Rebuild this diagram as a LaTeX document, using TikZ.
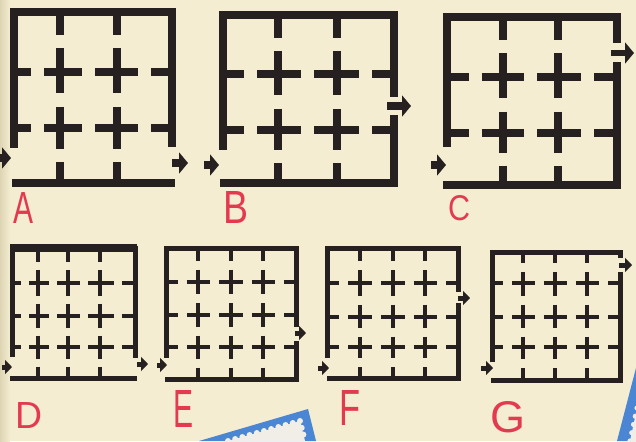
\documentclass[tikz,border=0pt]{standalone}
\usepackage{fontspec}
\setmainfont{Liberation Sans}
\usetikzlibrary{arrows.meta,calc}
\definecolor{paper}{RGB}{244,237,209}
\definecolor{papershade}{RGB}{222,212,180}
\definecolor{ink}{RGB}{38,32,32}
\definecolor{redink}{RGB}{228,58,80}
\definecolor{stampblue}{RGB}{74,134,212}
\definecolor{stampwhite}{RGB}{240,238,230}
\tikzset{
  mzline/.style={draw=ink, line cap=butt},
  mzwall/.style={draw=ink, line cap=butt, line join=miter},
  bigarrow/.style={draw=ink, line width=8pt, -{Triangle[length=9pt,width=21pt]}},
  smallarrow/.style={draw=ink, line width=5pt, -{Triangle[length=7pt,width=14pt]}},
  letter/.style={text=redink, inner sep=0pt, font=\fontsize{40}{40}\selectfont},
}
% #1 internal xs, #2 y pairs, #3 internal ys, #4 x pairs, #5 gap
\newcommand\mzgrid[5]{%
  \foreach \xx in {#1}{\foreach \ya/\yb in {#2}{
     \draw[mzline] (\xx,\ya) -- (\xx,{(\ya+\yb)/2-#5/2});
     \draw[mzline] (\xx,{(\ya+\yb)/2+#5/2}) -- (\xx,\yb);}}%
  \foreach \yy in {#3}{\foreach \xa/\xb in {#4}{
     \draw[mzline] (\xa,\yy) -- ({(\xa+\xb)/2-#5/2},\yy);
     \draw[mzline] ({(\xa+\xb)/2+#5/2},\yy) -- (\xb,\yy);}}}
\begin{document}
\begin{tikzpicture}[x=1pt,y=-1pt]
\useasboundingbox (0,0) rectangle (636,441);
\fill[paper] (0,0) rectangle (636,441);
\shade[left color=papershade, right color=paper] (0,0) rectangle (10,441);

% ---------- A ----------
\begin{scope}[line width=7.5pt]
  \mzgrid{60,117}{12/72,72/128,128/183}{72,128}{14/60,60/117,117/172}{13}
  \draw[mzwall, line width=8pt] (14,148) -- (14,12) -- (172,12) -- (172,147);
  \draw[mzwall, line width=8pt] (12,183) -- (175,183);
\end{scope}
\draw[bigarrow] (0,158) -- (11,158);
\draw[bigarrow] (172,163) -- (188,163);
\node[letter] (la) at (23,207.5) {\resizebox{20pt}{31pt}{A}};

% ---------- B ----------
\begin{scope}[line width=7.5pt]
  \mzgrid{278,337}{15/74,74/130,130/183}{74,130}{223/278,278/337,337/394}{13}
  \draw[mzwall, line width=8pt] (223,150) -- (223,15) -- (394,15) -- (394,97);
  \draw[mzwall, line width=8pt] (394,115) -- (394,183) -- (220,183);
\end{scope}
\draw[bigarrow] (204,165) -- (219,165);
\draw[bigarrow, line width=7pt] (387,106) -- (411,106);
\node[letter] (lb) at (235.5,207) {\resizebox{25pt}{32pt}{B}};

% ---------- C ----------
\begin{scope}[line width=7.5pt]
  \mzgrid{503,558}{17/77,77/133,133/185}{77,133}{447/503,503/558,558/617}{13}
  \draw[mzwall, line width=8pt] (447,147) -- (447,17) -- (617,17) -- (617,43);
  \draw[mzwall, line width=8pt] (617,62) -- (617,185) -- (443,185);
\end{scope}
\draw[bigarrow] (431,165) -- (446,165);
\draw[bigarrow, line width=6pt] (611,53) -- (634,53);
\node[letter] (lc) at (459,208.5) {\resizebox{22pt}{25pt}{C}};

% ---------- D ----------
\begin{scope}[line width=4.5pt]
  \mzgrid{38,68,100}{248/283,283/316,316/347,347/378}{283,316,347}{12/38,38/68,68/100,100/135}{8}
  \draw[mzwall, line width=5pt] (12,357) -- (12,248) -- (135,248) -- (135,358);
  \draw[mzwall, line width=7.5pt] (10,248) -- (137,248);
  \draw[mzwall, line width=5pt] (10,378) -- (137,378);
\end{scope}
\draw[smallarrow] (2,367) -- (12,367);
\draw[smallarrow] (137,364) -- (148,364);
\node[letter] (ld) at (28.5,415) {\resizebox{27pt}{26pt}{D}};

% ---------- E ----------
\begin{scope}[line width=4.5pt]
  \mzgrid{198,231,263}{248/282,282/315,315/347,347/379}{282,315,347}{166/198,198/231,231/263,263/296}{9}
  \draw[mzwall, line width=5pt] (166,358) -- (166,248) -- (296,248) -- (296,327);
  \draw[mzwall, line width=5pt] (296,341) -- (296,379) -- (165,379);
\end{scope}
\draw[smallarrow] (157,365) -- (167,365);
\draw[smallarrow] (295,333) -- (306,333);
\node[letter] (le) at (183,408.5) {\resizebox{20pt}{37pt}{E}};

% ---------- F ----------
\begin{scope}[line width=4.5pt]
  \mzgrid{360,393,425}{248/283,283/317,317/347,347/378}{283,317,347}{327/360,360/393,393/425,425/458}{9}
  \draw[mzwall, line width=5pt] (327,358) -- (327,248) -- (458,248) -- (458,292);
  \draw[mzwall, line width=5pt] (458,303) -- (458,378) -- (327,378);
\end{scope}
\draw[smallarrow] (318,368) -- (329,368);
\draw[smallarrow] (458,298) -- (470,298);
\node[letter] (lf) at (349.5,407.5) {\resizebox{21pt}{35pt}{F}};

% ---------- G ----------
\begin{scope}[line width=4.5pt]
  \mzgrid{523,555,587}{252/283,283/317,317/347,347/380}{283,317,347}{492/523,523/555,555/587,587/620}{9}
  \draw[mzwall, line width=5pt] (492,362) -- (492,252) -- (620,252) -- (620,258);
  \draw[mzwall, line width=5pt] (620,272) -- (620,380) -- (491,380);
\end{scope}
\draw[smallarrow] (481,368) -- (493,368);
\draw[smallarrow] (619,265) -- (632,265);
\node[letter] (lg) at (507.5,417.5) {\resizebox{35pt}{31pt}{G}};

% ---------- stamps ----------
\fill[stampblue] (199,441) -- (308,409) -- (316,441) -- cycle;
\fill[stampwhite] (228,441) -- (300,421) -- (305,441) -- cycle;
\foreach \t in {0,0.1,...,1.0}{
  \fill[stampwhite] ($(228,441)!\t!(300,421)$) circle (3pt);}
\foreach \t in {0,0.34,0.68}{
  \fill[stampwhite] ($(300,421)!\t!(305,441)$) circle (3pt);}
\fill[stampblue] (617,441) -- (637,364) -- (637,441) -- cycle;
\fill[stampwhite] (630,441) -- (637,408) -- (637,441) -- cycle;
\foreach \t in {0,0.25,...,1.0}{
  \fill[stampwhite] ($(630,441)!\t!(637,408)$) circle (2.6pt);}
\end{tikzpicture}
\end{document}
